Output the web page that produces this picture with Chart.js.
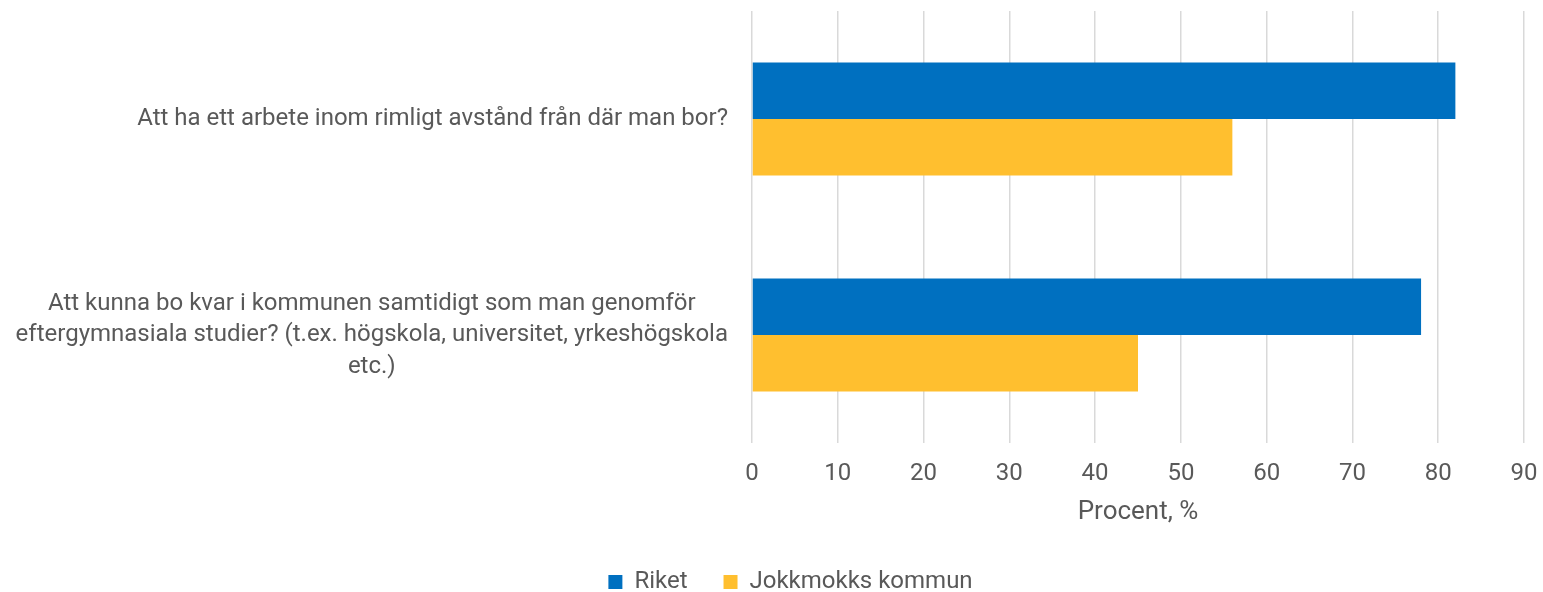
<!DOCTYPE html>
<html>
<head>
<meta charset="utf-8">
<script src="https://cdn.jsdelivr.net/npm/chart.js@4"></script>
<style>
  html, body { margin: 0; padding: 0; background: #fff; }
  #wrap { width: 1543px; height: 592px; }
</style>
</head>
<body>
<div id="wrap"><canvas id="barChart"></canvas></div>
<script>
// Data
var categories = [
    ['Att ha ett arbete inom rimligt avstånd från där man bor?'],
    ['Att kunna bo kvar i kommunen samtidigt som man genomför',
     'eftergymnasiala studier? (t.ex. högskola, universitet, yrkeshögskola',
     'etc.)']
];
var seriesNames = ['Riket', 'Jokkmokks kommun'];
var riket = [82, 78];
var jokkmokk = [56, 45];
var xTicks = [0, 10, 20, 30, 40, 50, 60, 70, 80, 90];

var textColor = '#595959';
var fontFamily = 'Roboto, "Noto Sans", sans-serif';

// Excel-style category labels: single lines right aligned, wrapped lines centred
var categoryLabels = {
    id: 'categoryLabels',
    afterLayout: function(chart) {
        // nudge legend a bit right, Excel keeps the box closer to its text
        if (chart.legend) {
            chart.legend.left += 19;
            chart.legend.right += 19;
        }
    },
    afterDraw: function(chart) {
        var ctx = chart.ctx;
        var scale = chart.scales.y;
        var right = chart.chartArea.left - 24;
        var lineHeight = 31.5;
        ctx.save();
        ctx.font = '24px ' + fontFamily;
        ctx.fillStyle = textColor;
        ctx.textAlign = 'center';
        ctx.textBaseline = 'middle';
        categories.forEach(function(lines, i) {
            var widest = 0;
            lines.forEach(function(line) {
                widest = Math.max(widest, ctx.measureText(line).width);
            });
            var cx = right - widest / 2;
            var cy = scale.getPixelForValue(i);
            var top = cy - (lines.length - 1) * lineHeight / 2;
            lines.forEach(function(line, j) {
                ctx.fillText(line, cx, top + j * lineHeight);
            });
        });
        ctx.restore();
    }
};

document.addEventListener('DOMContentLoaded', function() {
    var ctx = document.getElementById('barChart').getContext('2d');

    new Chart(ctx, {
        type: 'bar',
        data: {
            labels: categories.map(function(c) { return c.join(' '); }),
            datasets: [{
                label: seriesNames[0],
                data: riket,
                backgroundColor: '#0070C0'
            }, {
                label: seriesNames[1],
                data: jokkmokk,
                backgroundColor: '#FFBF2F'
            }]
        },
        options: {
            indexAxis: 'y',
            responsive: true,
            maintainAspectRatio: false,
            animation: false,
            categoryPercentage: 0.523,
            barPercentage: 1,
            layout: {
                padding: { top: 11, right: 0, bottom: -12, left: 0 }
            },
            scales: {
                x: {
                    min: 0,
                    max: 90,
                    afterBuildTicks: function(scale) {
                        scale.ticks = xTicks.map(function(v) { return { value: v }; });
                    },
                    afterFit: function(scale) {
                        scale.paddingRight = 19; // keep the 90 line where Excel put it
                    },
                    grid: {
                        color: '#D9D9D9',
                        lineWidth: 1.5,
                        drawTicks: false
                    },
                    border: { display: false },
                    ticks: {
                        padding: 16.6,
                        color: textColor,
                        font: { family: fontFamily, size: 24 }
                    },
                    title: {
                        display: true,
                        text: 'Procent, %',
                        color: textColor,
                        font: { family: fontFamily, size: 26 },
                        padding: { top: -8.6, bottom: 6.4 }
                    }
                },
                y: {
                    grid: { display: false },
                    border: { display: false },
                    ticks: { display: false },
                    afterFit: function(scale) {
                        scale.width = 752;
                    }
                }
            },
            plugins: {
                legend: {
                    position: 'bottom',
                    labels: {
                        boxWidth: 14,
                        boxHeight: 14,
                        padding: 36,
                        color: textColor,
                        font: { family: fontFamily, size: 24 }
                    }
                },
                tooltip: { enabled: false }
            }
        },
        plugins: [categoryLabels]
    });
});
</script>
</body>
</html>
